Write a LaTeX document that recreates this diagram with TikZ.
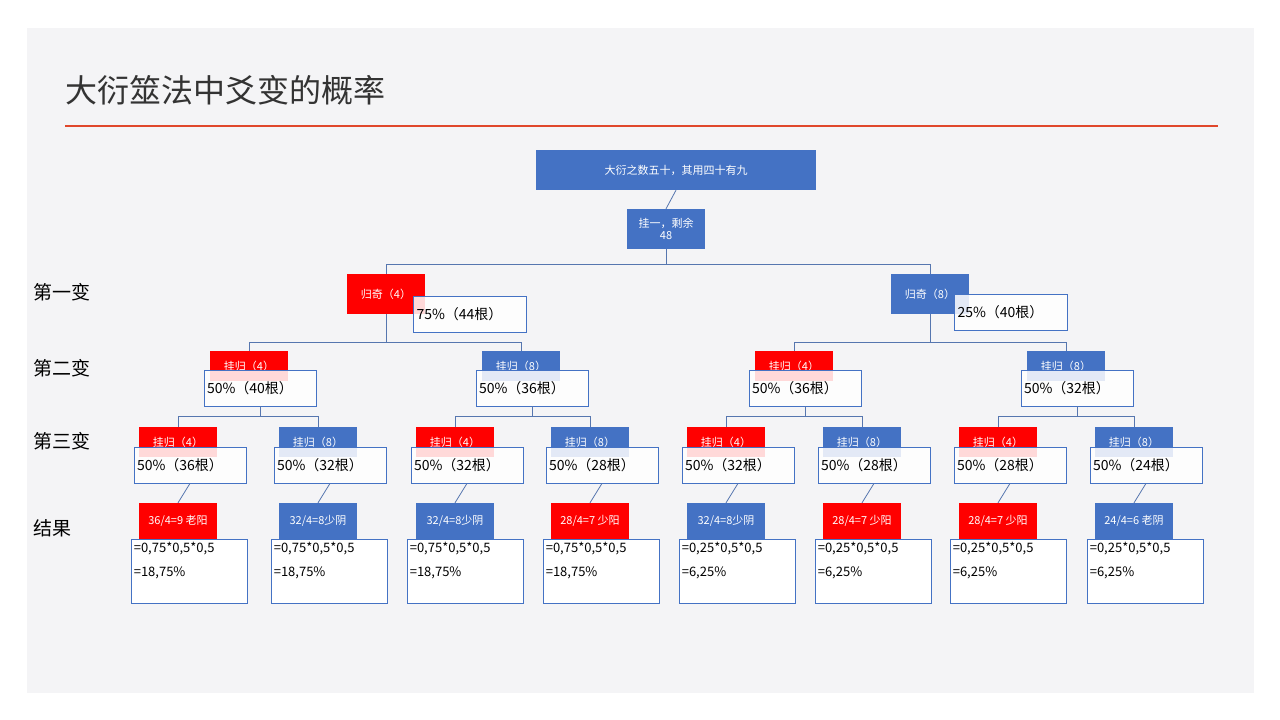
\documentclass[tikz,border=0pt]{standalone}
\usepackage{fontspec}
\setmainfont{Noto Sans CJK SC}
\usetikzlibrary{positioning}
\definecolor{boxblue}{HTML}{4472C4}
\definecolor{boxred}{HTML}{FF0000}
\definecolor{slide}{HTML}{F4F4F6}
\definecolor{rule}{HTML}{E0472B}

\begin{document}
\begin{tikzpicture}[
    x=1pt, y=-1pt,
    tag/.style={draw=none, text=white, inner sep=1pt, minimum width=78pt, minimum height=30pt, font=\fontsize{11}{13}\selectfont},
    pct/.style={draw=boxblue, fill=white, fill opacity=0.85, text opacity=1, line width=0.8pt, minimum width=112pt, minimum height=36pt, inner sep=2pt, text width=106pt, align=left, font=\fontsize{14}{16}\selectfont},
    prob/.style={draw=boxblue, fill=white, line width=0.8pt, minimum width=116pt, minimum height=64pt},
    rowlab/.style={anchor=west, font=\fontsize{19}{21}\selectfont},
    link/.style={draw=boxblue!70!gray, line width=0.8pt}
]
   % slide
   \fill[white] (0,0) rectangle (1280,720);
   \fill[slide] (27,28) rectangle (1254,693);
   \node[anchor=west, font=\fontsize{32}{36}\selectfont, text=black!80] (title) at (62,90) {大衍筮法中爻变的概率};
   \draw[rule, line width=1.5pt] (65,126) -- (1218,126);

   % row labels
   \node[rowlab] (r1) at (30,292) {第一变};
   \node[rowlab] (r2) at (30,368) {第二变};
   \node[rowlab] (r3) at (30,441) {第三变};
   \node[rowlab] (r4) at (30,528) {结果};

   % root
   \node[tag, fill=boxblue, minimum width=280pt, minimum height=40pt] (root) at (676,170) {大衍之数五十，其用四十有九};
   \node[tag, fill=boxblue, minimum width=78pt, minimum height=40pt, align=center, font=\fontsize{11}{12}\selectfont] (rest) at (666,229) {挂一，剩余\\48};
   \draw[link] (root.south) -- (rest.north);

   % first change
   \node[tag, fill=boxred, minimum height=40pt] (a) at (386,294) {归奇（4）};
   \node[pct, minimum width=113pt, text width=107pt] (pa) at (470,314) {75\%（44根）};
   \node[tag, fill=boxblue, minimum height=40pt] (b) at (930,294) {归奇（8）};
   \node[pct, minimum width=113pt, text width=107pt] (pb) at (1011,312) {25\%（40根）};
   \draw[link] (rest.south) -- ++(0,15) -| (a.north);
   \draw[link] (rest.south) -- ++(0,15) -| (b.north);

   % second change
   \foreach \n/\x/\c/\k/\v/\p in {aa/249/boxred/4/40/a, ab/521/boxblue/8/36/a, ba/794/boxred/4/36/b, bb/1066/boxblue/8/32/b} {
      \node[tag, fill=\c] (\n) at (\x,366) {挂归（\k{}）};
      \node[pct] (p\n) at (\x+11,388) {50\%（\v{}根）};
      \draw[link] (\p.south) -- ++(0,28) -| (\n.north);
   }

   % third change
   \foreach \n/\x/\c/\k/\v/\p in {aaa/178/boxred/4/36/aa, aab/318/boxblue/8/32/aa,
                                  aba/455/boxred/4/32/ab, abb/590/boxblue/8/28/ab,
                                  baa/726/boxred/4/32/ba, bab/862/boxblue/8/28/ba,
                                  bba/998/boxred/4/28/bb, bbb/1134/boxblue/8/24/bb} {
      \node[tag, fill=\c] (\n) at (\x,442) {挂归（\k{}）};
      \node[pct] (p\n) at (\x+12,465) {50\%（\v{}根）};
      \draw[link] (p\p.south) -- ++(0,10) -| (\n.north);
   }

   % results
   \node[tag, fill=boxred,  minimum height=36pt] (xaaa) at (178,521) {36/4=9 老阳};
   \node[tag, fill=boxblue, minimum height=36pt] (xaab) at (318,521) {32/4=8少阴};
   \node[tag, fill=boxblue, minimum height=36pt] (xaba) at (455,521) {32/4=8少阴};
   \node[tag, fill=boxred,  minimum height=36pt] (xabb) at (590,521) {28/4=7 少阳};
   \node[tag, fill=boxblue, minimum height=36pt] (xbaa) at (726,521) {32/4=8少阴};
   \node[tag, fill=boxred,  minimum height=36pt] (xbab) at (862,521) {28/4=7 少阳};
   \node[tag, fill=boxred,  minimum height=36pt] (xbba) at (998,521) {28/4=7 少阳};
   \node[tag, fill=boxblue, minimum height=36pt] (xbbb) at (1134,521) {24/4=6 老阴};
   \foreach \n/\x/\v/\r in {aaa/189/{0,75}/{18,75}, aab/329/{0,75}/{18,75}, aba/465/{0,75}/{18,75}, abb/601/{0,75}/{18,75},
                            baa/737/{0,25}/{6,25}, bab/873/{0,25}/{6,25}, bba/1008/{0,25}/{6,25}, bbb/1145/{0,25}/{6,25}} {
      \draw[link] (p\n.south) -- (x\n.north);
      \node[prob, anchor=north] (q\n) at (\x,539) {};
      \node[anchor=north west, align=left, inner sep=3pt, font=\fontsize{13}{24}\selectfont] (t\n) at (q\n.north west) {=\v{}*0,5*0,5\\=\r{}\%};
   }
\end{tikzpicture}
\end{document}
